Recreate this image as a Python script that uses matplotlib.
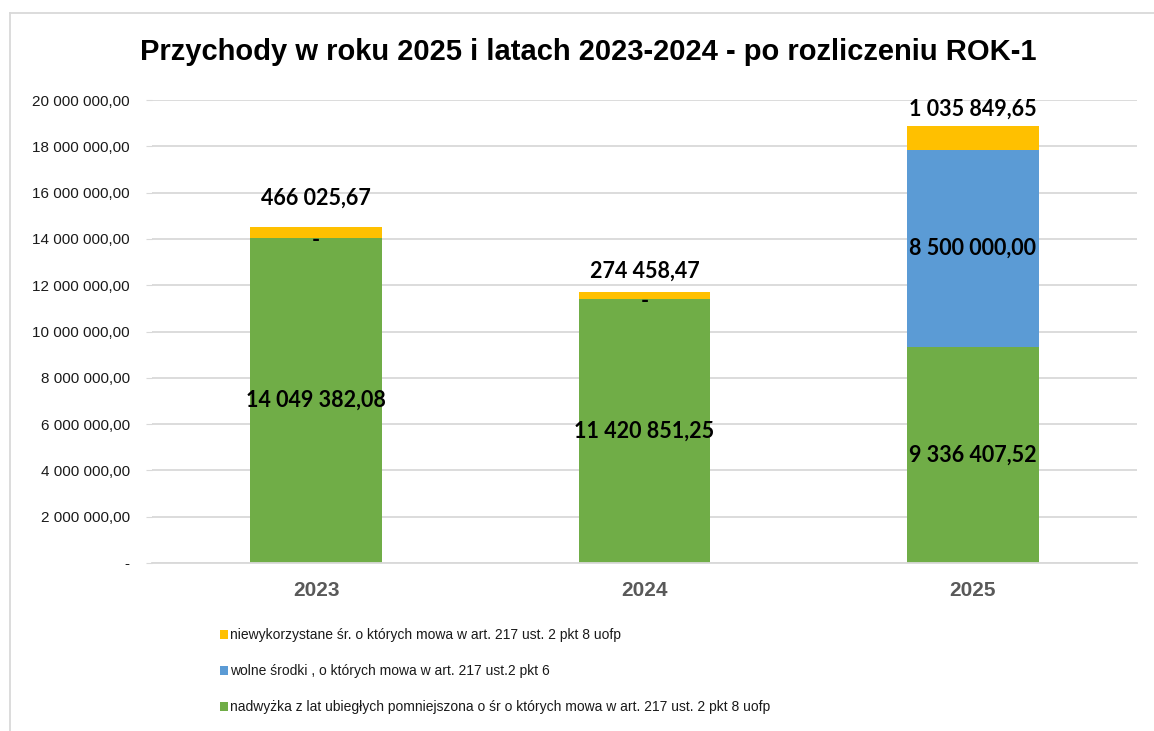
import matplotlib.pyplot as plt
from matplotlib.lines import Line2D
from matplotlib.ticker import FuncFormatter
import numpy as np

# data
years = ["2023", "2024", "2025"]
nadwyzka = [14049382.08, 11420851.25, 9336407.52]
wolne = [0.0, 0.0, 8500000.00]
niewykorzystane = [466025.67, 274458.47, 1035849.65]

series_names = [
    "nadwyżka z lat ubiegłych pomniejszona o śr o których mowa w art. 217 ust. 2 pkt 8 uofp",
    "wolne środki , o których mowa w art. 217 ust.2 pkt 6",
    "niewykorzystane śr. o których mowa w art. 217 ust. 2 pkt 8 uofp",
]
colors = ["#70AD47", "#5B9BD5", "#FFC000"]

title = "Przychody w roku 2025 i latach 2023-2024 - po rozliczeniu ROK-1"


def pl_format(v):
    if v == 0:
        return "-"
    s = f"{v:,.2f}"
    return s.replace(",", " ").replace(".", ",")


plt.rcParams["font.family"] = ["Liberation Sans", "DejaVu Sans"]

fig = plt.figure(figsize=(11.54, 7.31), dpi=100)
ax = fig.add_axes([152 / 1154, 1 - 563 / 731, 985 / 1154, 463 / 731])

x = np.arange(len(years))
w = 0.4
b1 = ax.bar(x, nadwyzka, w, color=colors[0], label=series_names[0], zorder=2)
b2 = ax.bar(x, wolne, w, bottom=nadwyzka, color=colors[1], label=series_names[1], zorder=2)
bottom3 = np.array(nadwyzka) + np.array(wolne)
b3 = ax.bar(x, niewykorzystane, w, bottom=bottom3, color=colors[2], label=series_names[2], zorder=2)

ax.set_xlim(-0.5, len(years) - 0.5)
ax.set_ylim(0, 20000000)
ax.set_yticks(np.arange(0, 20000001, 2000000))
ax.yaxis.set_major_formatter(FuncFormatter(lambda v, p: pl_format(v)))
ax.grid(axis="y", color="#D9D9D9", linewidth=1.3, zorder=0)
ax.set_axisbelow(True)

for s in ["top", "right", "left"]:
    ax.spines[s].set_visible(False)
ax.spines["bottom"].set_color("#D9D9D9")
ax.spines["bottom"].set_linewidth(1.3)

ax.tick_params(axis="y", length=4, color="#D9D9D9", labelsize=11, labelcolor="#1a1a1a", pad=12)
ax.tick_params(axis="x", length=0, pad=13)
ax.set_xticks(x)
ax.set_xticklabels(years, fontsize=15, fontweight="bold", color="#595959")

lbl_font = dict(family=["Lato", "DejaVu Sans"], fontsize=15.5, fontweight="bold", color="black")

# labels in the middle of green and blue segments
for i in range(len(years)):
    ax.text(x[i], nadwyzka[i] / 2, pl_format(nadwyzka[i]), ha="center", va="center", **lbl_font)
    ax.annotate(pl_format(wolne[i]), (x[i], nadwyzka[i] + wolne[i] / 2),
                xytext=(0, -2 if wolne[i] == 0 else 0), textcoords="offset points",
                ha="center", va="center", **lbl_font)

# labels above the yellow segments
top_offsets = [21, 15, 12]
for i in range(len(years)):
    ax.annotate(pl_format(niewykorzystane[i]), (x[i], bottom3[i] + niewykorzystane[i]),
                xytext=(0, top_offsets[i]), textcoords="offset points",
                ha="center", va="center", **lbl_font)

fig.text(588 / 1154, 1 - 52 / 731, title, ha="center", va="center",
         fontsize=21, fontweight="bold", color="black")

handles = [b3, b2, b1]
labels = [series_names[2], series_names[1], series_names[0]]
ax.legend(handles, labels, loc="upper left", bbox_to_anchor=(220 / 1154, 1 - 628 / 731),
          bbox_transform=fig.transFigure, frameon=False, fontsize=10,
          handlelength=0.6, handleheight=0.6, handletextpad=0.15,
          labelspacing=1.6, borderpad=0, borderaxespad=0, labelcolor="#1a1a1a")

# chart border (left and top edges visible)
fig.add_artist(Line2D([10 / 1154, 10 / 1154], [0, 1 - 13 / 731], transform=fig.transFigure,
                      color="#D9D9D9", linewidth=1.3))
fig.add_artist(Line2D([10 / 1154, 1], [1 - 13 / 731, 1 - 13 / 731], transform=fig.transFigure,
                      color="#D9D9D9", linewidth=1.3))

fig.savefig("out.png", dpi=100)
